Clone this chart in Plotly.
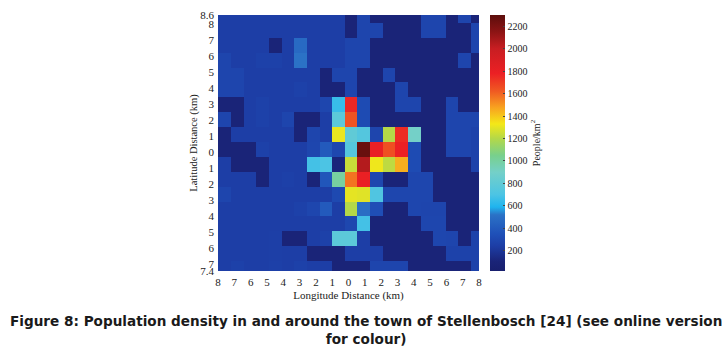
import plotly.graph_objects as go

B, H, D = 245, 285, 105   # base blue, brighter blue, dark navy (people/km2)
density = [
    # c0..c20, top row first
    [B, B, B, B, B, B, B, B, B, B, D, H, D, D, D, D, H, H, D, H, D],
    [B, B, B, B, B, B, B, B, B, B, D, H, H, D, D, D, H, H, D, D, H],
    [B, B, B, B, D, B, 480, B, B, B, H, H, D, D, D, D, D, D, D, D, H],
    [H, B, B, 260, 260, B, 520, B, B, B, H, H, D, D, D, D, D, D, D, H, D],
    [H, H, B, B, B, B, B, B, D, 285, H, D, D, H, D, D, D, D, D, D, D],
    [H, H, B, B, B, B, 260, B, D, D, H, D, D, D, H, D, D, D, D, D, D],
    [D, D, B, 265, B, B, B, B, 290, 650, 1760, 320, D, D, H, H, D, D, H, D, D],
    [H, D, B, 265, B, 285, D, D, B, 780, 1640, 320, D, D, D, D, D, D, H, H, H],
    [D, B, B, B, B, B, D, 285, B, 1310, 800, 740, 285, 1200, 1750, 900, D, D, H, H, 270],
    [D, D, D, 265, B, B, B, 290, 400, 300, 750, 2260, 1800, 1650, 1780, 320, D, D, H, H, 270],
    [B, D, D, D, B, B, B, 680, 700, 110, 1240, 2050, 1320, 1220, 1450, 320, D, D, D, D, 270],
    [B, B, B, D, B, 255, B, D, 380, 1000, 1570, 1790, 300, D, D, 290, 290, D, D, D, D],
    [H, B, B, B, B, B, B, B, B, 310, 1300, 1290, 720, 290, 290, 290, 290, D, D, D, D],
    [B, B, B, B, B, B, 265, 290, 400, B, 1200, 500, 340, D, D, 290, H, H, D, D, D],
    [B, B, B, B, B, B, B, B, B, B, 300, 680, D, D, D, D, 290, 290, D, D, D],
    [B, B, B, B, 250, D, D, B, 265, 780, 780, B, D, D, D, D, D, 290, H, D, 270],
    [B, B, B, B, 250, B, B, D, D, D, B, B, B, D, D, D, D, D, 270, 270, 270],
    [B, 260, B, B, 255, B, 260, B, B, D, D, D, H, H, H, D, D, D, D, D, 270],
]

x_tick_vals = [-8, -7, -6, -5, -4, -3, -2, -1, 0, 1, 2, 3, 4, 5, 6, 7, 8]
x_tick_text = ["8", "7", "6", "5", "4", "3", "2", "1", "0", "1", "2", "3", "4", "5", "6", "7", "8"]
y_tick_vals = [8.6, 8, 7, 6, 5, 4, 3, 2, 1, 0, -1, -2, -3, -4, -5, -6, -7, -7.4]
y_tick_text = ["8.6", "8", "7", "6", "5", "4", "3", "2", "1", "0", "1", "2", "3", "4", "5", "6", "7", "7.4"]
bar_ticks = [200, 400, 600, 800, 1000, 1200, 1400, 1600, 1800, 2000, 2200]

col_edges = [-8] + [-7.97 + 0.774 * k for k in range(1, 21)] + [8]
row_edges = [8.6] + [8.11 - 0.931 * k for k in range(17)] + [-7.4]

zmin, zmax = 20, 2300
stops = [(20, "#181f6e"), (105, "#1a2478"), (245, "#1d3ea6"), (350, "#1f50b8"), (520, "#2b72c6"), (590, "#1fb4ee"),
         (700, "#4cc4e4"), (900, "#74d0c8"), (1050, "#78d08c"), (1200, "#b4d848"), (1330, "#f4e818"),
         (1480, "#f8a020"), (1620, "#f05a22"), (1780, "#ec2024"), (2000, "#c81e22"), (2150, "#8c1414"), (2300, "#5c0e0c")]
scale = [[(v - zmin) / (zmax - zmin), c] for v, c in stops]

serif = "Liberation Serif"
fig = go.Figure(go.Heatmap(
    z=density, x=col_edges, y=row_edges, zmin=zmin, zmax=zmax, colorscale=scale,
    colorbar=dict(
        x=1.042, xanchor="left", y=0.5, yanchor="middle", len=1.0, lenmode="fraction",
        thickness=15, thicknessmode="pixels", outlinewidth=0, xpad=0, ypad=0,
        tickvals=bar_ticks, ticks="inside", ticklen=2, tickcolor="#444444", tickwidth=1,
        tickfont=dict(family=serif, size=10, color="#222222"),
        title=dict(text="People/km<sup>2</sup>", side="right", font=dict(family=serif, size=10, color="#222222")),
    ),
))
fig.update_xaxes(range=[-8, 8], tickvals=x_tick_vals, ticktext=x_tick_text, ticks="", showgrid=False, zeroline=False,
                 tickfont=dict(family=serif, size=11, color="#222222"), ticklabelstandoff=3,
                 title=dict(text="Longitude Distance (km)", font=dict(family=serif, size=11, color="#222222"), standoff=4))
fig.update_yaxes(range=[-7.4, 8.6], tickvals=y_tick_vals, ticktext=y_tick_text, ticks="", showgrid=False, zeroline=False,
                 tickfont=dict(family=serif, size=11, color="#222222"), ticklabelstandoff=3,
                 title=dict(text="Latitude Distance (km)", font=dict(family=serif, size=10.5, color="#222222"), standoff=0))
fig.update_layout(
    width=725, height=349, margin=dict(l=218, r=246, t=9, b=78), paper_bgcolor="white", plot_bgcolor="white",
    annotations=[dict(
        text="<b>Figure 8: Population density in and around the town of Stellenbosch [24] (see online version<br>for colour)</b>",
        xref="paper", yref="paper", x=0.5, y=-0.155, xshift=17, yanchor="top", showarrow=False, align="center",
        font=dict(family="DejaVu Sans", size=13.6, color="#1a1a1a"),
    )],
)
fig.write_html("out.html", config={"displayModeBar": False},
               post_script="document.body.style.margin='0';document.body.style.padding='0';")
